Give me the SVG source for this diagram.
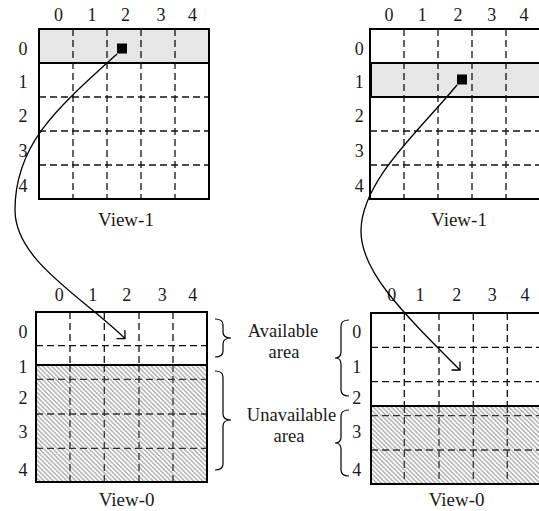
<svg xmlns="http://www.w3.org/2000/svg" width="539" height="511" viewBox="0 0 539 511">
<style>
  text { font-family: "Liberation Serif", "Times New Roman", serif; font-size: 18px; fill: #1a1a1a; text-anchor: middle; }
  .lbl { font-size: 19px; }
  .area { font-size: 18.5px; }
  .box { fill: none; stroke: #000; stroke-width: 2; }
  .shade { fill: #e6e6e6; stroke: #000; stroke-width: 2; }
  .solid { fill: none; stroke: #000; stroke-width: 2; }
  .d { fill: none; stroke: #111; stroke-width: 1.3; stroke-dasharray: 7 4; }
  .dh { fill: none; stroke: #333; stroke-width: 1.3; stroke-dasharray: 7 4; }
  .conn { fill: none; stroke: #000; stroke-width: 1.3; }
  .brace { fill: none; stroke: #000; stroke-width: 1.2; }
  .dot { fill: #000; }
</style>
<defs>
  <pattern id="hatch" width="3.2" height="3.2" patternUnits="userSpaceOnUse" patternTransform="rotate(45)">
    <rect width="3.2" height="3.2" fill="#fff"/>
    <line x1="0" y1="1.6" x2="3.2" y2="1.6" stroke="#a0a0a0" stroke-width="1.2"/>
  </pattern>
  <marker id="arr" viewBox="-8 -8 10 16" markerWidth="10" markerHeight="16" refX="0" refY="0" orient="auto" markerUnits="userSpaceOnUse">
    <path d="M-6,-6 L0,0 L-6,6" fill="none" stroke="#000" stroke-width="1.3"/>
  </marker>
</defs>

<!-- View-1 (left) -->
<g id="view1-left">
  <rect class="shade" x="39" y="29" width="170" height="34"/>
  <path class="d" d="M73,29V199 M107,29V199 M141,29V199 M175,29V199"/>
  <path class="d" d="M39,97H209 M39,131H209 M39,165H209"/>
  <rect class="box" x="39" y="29" width="170" height="170"/>
  <rect class="dot" x="117" y="43.5" width="10" height="10"/>
  <text x="58.5" y="21">0</text><text x="92" y="21">1</text><text x="125.5" y="21">2</text><text x="161" y="21">3</text><text x="192.5" y="21">4</text>
  <text x="23" y="55">0</text><text x="23" y="88">1</text><text x="23" y="122">2</text><text x="23" y="157">3</text><text x="23" y="191.5">4</text>
  <text class="lbl" x="126" y="225.5">View-1</text>
</g>

<!-- View-1 (right) -->
<g id="view1-right">
  <rect class="shade" x="371" y="63" width="170" height="34"/>
  <path class="d" d="M404,29V199 M438,29V199 M472,29V199 M506,29V199"/>
  <path class="d" d="M370,131H541 M370,165H541"/>
  <rect class="box" x="370" y="29" width="170" height="170"/>
  <rect class="dot" x="457" y="74.5" width="10" height="10"/>
  <text x="389" y="21">0</text><text x="422.3" y="21">1</text><text x="458" y="21">2</text><text x="491.7" y="21">3</text><text x="524" y="21">4</text>
  <text x="359.3" y="55">0</text><text x="359.3" y="88">1</text><text x="359.3" y="122">2</text><text x="359.3" y="157">3</text><text x="359.3" y="191.5">4</text>
  <text class="lbl" x="459" y="225.5">View-1</text>
</g>

<!-- View-0 (left) -->
<g id="view0-left">
  <rect x="36" y="365" width="171" height="117" fill="url(#hatch)"/>
  <path class="d" d="M70,312V365 M104.3,312V365 M139,312V365 M173,312V365 M36,345.7H207"/>
  <path class="dh" d="M70,365V482 M104.3,365V482 M139,365V482 M173,365V482 M36,379.3H207 M36,414H207 M36,448.3H207"/>
  <line class="solid" x1="36" y1="365" x2="207" y2="365"/>
  <rect class="box" x="36" y="312" width="171" height="170"/>
  <text x="59.3" y="301">0</text><text x="92.7" y="301">1</text><text x="126.7" y="301">2</text><text x="162.3" y="301">3</text><text x="192.7" y="301">4</text>
  <text x="23" y="337.7">0</text><text x="23" y="372.7">1</text><text x="23" y="404">2</text><text x="23" y="437.7">3</text><text x="23" y="476">4</text>
  <text class="lbl" x="126.7" y="506.3">View-0</text>
</g>

<!-- View-0 (right) -->
<g id="view0-right">
  <rect x="371" y="406" width="170" height="78" fill="url(#hatch)"/>
  <path class="d" d="M404.3,313V406 M439,313V406 M473.3,313V406 M507.3,313V406 M371,347.3H541 M371,381.7H541"/>
  <path class="dh" d="M404.3,406V484 M439,406V484 M473.3,406V484 M507.3,406V484 M371,415.7H541 M371,450H541"/>
  <line class="solid" x1="371" y1="406" x2="541" y2="406"/>
  <rect class="box" x="371" y="313" width="170" height="171"/>
  <text x="391.7" y="301">0</text><text x="420" y="301">1</text><text x="456.7" y="301">2</text><text x="492.3" y="301">3</text><text x="525" y="301">4</text>
  <text x="356.7" y="337.7">0</text><text x="356.7" y="372.7">1</text><text x="356.7" y="403.7">2</text><text x="356.7" y="437.7">3</text><text x="356.7" y="476">4</text>
  <text class="lbl" x="456.7" y="506.3">View-0</text>
</g>

<!-- Area annotations -->
<g id="available-area">
  <path class="brace" d="M215,319 Q223,319 223,325 L223,332 Q223,338 231,338 Q223,338 223,344 L223,351 Q223,357 215,357"/>
  <path class="brace" d="M349,320 Q341,320 341,326 L341,352 Q341,358 335,358 Q341,358 341,364 L341,390 Q341,396 349,396"/>
  <text class="area" x="283" y="337">Available</text>
  <text class="area" x="284" y="358">area</text>
</g>
<g id="unavailable-area">
  <path class="brace" d="M215,371 Q223,371 223,377 L223,414 Q223,420 231,420 Q223,420 223,426 L223,464 Q223,470 215,470"/>
  <path class="brace" d="M349,410 Q341,410 341,416 L341,437 Q341,443 335,443 Q341,443 341,449 L341,470 Q341,476 349,476"/>
  <text class="area" x="291.5" y="421">Unavailable</text>
  <text class="area" x="289" y="442">area</text>
</g>

<!-- Connectors -->
<g id="connectors">
  <path class="conn" d="M117,54 C55,110 15,145 15,210 C15,260 80,295 125,338.5" marker-end="url(#arr)"/>
  <path class="conn" d="M457,85 C420,130 362,180 361,230 C360,270 400,310 460,370" marker-end="url(#arr)"/>
</g>
</svg>
